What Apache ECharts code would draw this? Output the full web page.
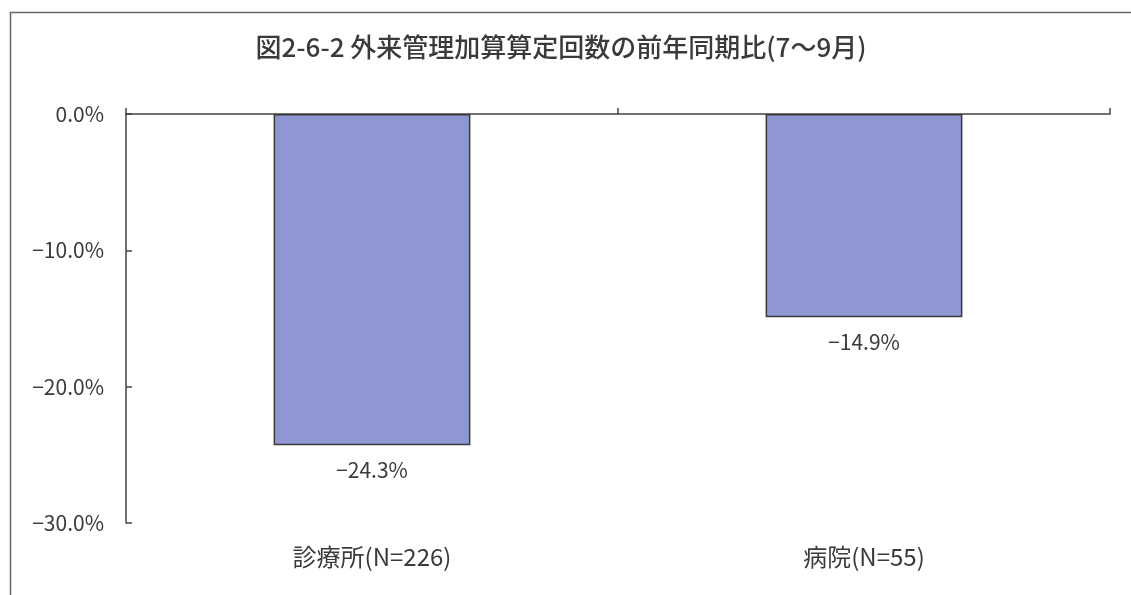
<!DOCTYPE html>
<html><head><meta charset="utf-8">
<script src="https://cdn.jsdelivr.net/npm/echarts@6/dist/echarts.min.js"></script>
<style>html,body{margin:0;padding:0;background:#fff;}#c{width:1131px;height:595px;}</style>
</head><body><div id="c"></div>
<script>
const titleText = '図2-6-2 外来管理加算算定回数の前年同期比(7～9月)';
const categories = ['診療所(N=226)', '病院(N=55)'];
const values = [-24.3, -14.9];
const yMin = -30, yMax = 0, yInterval = 10;

const font = '"Noto Sans CJK JP", "Noto Sans", sans-serif';
const fmtPct = v => (v < 0 ? '\u2212' : '') + Math.abs(v).toFixed(1) + '%';
const chart = echarts.init(document.getElementById('c'));
chart.setOption({
  backgroundColor: '#ffffff',
  animation: false,
  title: {
    text: titleText, left: 556, textAlign: 'center', top: 29,
    textStyle: { fontFamily: font, fontSize: 26, fontWeight: 500, color: '#3a3a3a' }
  },
  graphic: [{
    type: 'rect', left: 8, top: 10, shape: { width: 1200, height: 700 },
    style: { fill: 'none', stroke: '#666', lineWidth: 1.5 }, silent: true
  }],
  grid: { left: 126, right: 21, top: 114, bottom: 72, containLabel: false },
  xAxis: [{
    type: 'category', data: categories, position: 'top',
    axisLine: { show: true, onZero: false, lineStyle: { color: '#444', width: 1.5 } },
    axisTick: { show: true, length: 6, lineStyle: { color: '#444', width: 1.5 } },
    axisLabel: { show: false }, splitLine: { show: false }
  }, {
    type: 'category', data: categories, position: 'bottom',
    axisLine: { show: false }, axisTick: { show: false },
    axisLabel: { show: true, margin: 22, fontFamily: font, fontSize: 24, color: '#3a3a3a' }
  }],
  yAxis: {
    type: 'value', min: yMin, max: yMax, interval: yInterval,
    axisLine: { show: true, lineStyle: { color: '#444', width: 1.5 } },
    axisTick: { show: true, inside: true, length: 6, lineStyle: { color: '#444', width: 1.5 } },
    axisLabel: { margin: 22, fontFamily: font, fontSize: 21, color: '#3a3a3a',
      formatter: v => fmtPct(v) },
    splitLine: { show: false }
  },
  series: [{
    type: 'bar', data: values, xAxisIndex: 0, barWidth: '40%',
    itemStyle: { color: '#8f96d4', borderColor: '#3a3a3a', borderWidth: 1.5 },
    label: { show: true, position: 'bottom', distance: 14, fontFamily: font, fontSize: 21, color: '#3a3a3a',
      formatter: p => fmtPct(p.value) }
  }]
});
</script></body></html>
